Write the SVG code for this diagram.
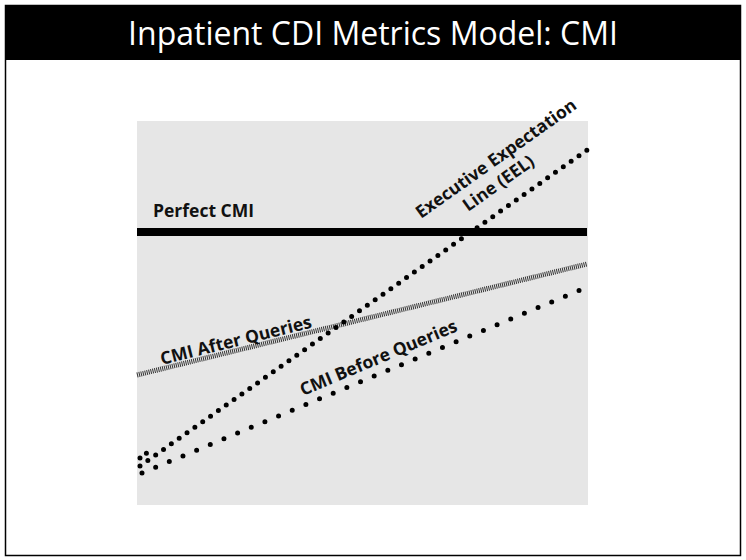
<svg xmlns="http://www.w3.org/2000/svg" width="746" height="560" viewBox="0 0 746 560">
<style>
.lbl{font-family:"Open Sans","Liberation Sans",sans-serif;font-weight:bold;font-size:17.5px;fill:#111}
.dots{fill:none;stroke:#000;stroke-width:5;stroke-linecap:round}
</style>
<rect x="0" y="0" width="746" height="560" fill="#fff"/>
<rect x="5.5" y="5.5" width="735" height="550" fill="#fff" stroke="#000" stroke-width="1.5"/>
<g id="title">
<rect x="5" y="5" width="736" height="55" fill="#000"/>
<text x="373" y="45" text-anchor="middle" font-family="Open Sans, Liberation Sans, sans-serif" font-size="32" fill="#fff">Inpatient CDI Metrics Model: CMI</text>
</g>
<rect id="panel" x="137" y="121" width="451" height="384" fill="#e6e6e6"/>
<g id="connectors">
<line x1="137" y1="232" x2="587" y2="232" stroke="#000" stroke-width="8"/>
<line x1="137" y1="375" x2="587" y2="264" stroke="#333" stroke-width="5" stroke-dasharray="1 1"/>
<line class="dots" x1="140" y1="466" x2="587" y2="150" stroke-dasharray="0 9.6"/>
<line class="dots" x1="140" y1="458" x2="148" y2="452" stroke-dasharray="0 8"/>
<line class="dots" x1="142" y1="473" x2="585" y2="288" stroke-dasharray="0 14.8"/>
</g>
<g id="perfect"><text class="lbl" x="153" y="217">Perfect CMI</text></g>
<g id="after"><text class="lbl" transform="translate(162,365) rotate(-14)">CMI After Queries</text></g>
<g id="before"><text class="lbl" transform="translate(303,396) rotate(-22.8)">CMI Before Queries</text></g>
<g id="eel">
<text class="lbl" transform="translate(421,219) rotate(-35.3)">Executive Expectation</text>
<text class="lbl" transform="translate(468,212) rotate(-35.3)">Line (EEL)</text>
</g>
</svg>
